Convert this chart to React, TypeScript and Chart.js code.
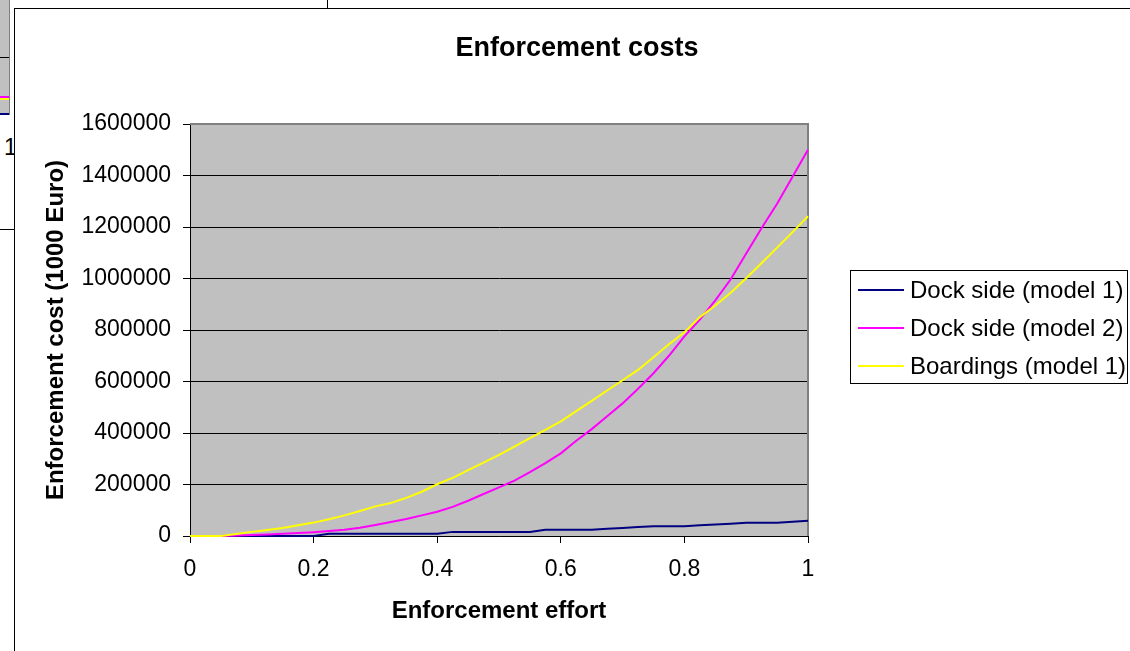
import React, { useEffect, useRef } from 'react';
import { Chart, registerables } from 'chart.js';

Chart.register(...registerables);

const FONT = "'Liberation Sans', Arial, Helvetica, sans-serif";

const chartTitle = 'Enforcement costs';
const xAxisTitle = 'Enforcement effort';
const yAxisTitle = 'Enforcement cost (1000 Euro)';

const effort = [
  0, 0.025, 0.05, 0.075, 0.1, 0.125, 0.15, 0.175, 0.2, 0.225,
  0.25, 0.275, 0.3, 0.325, 0.35, 0.375, 0.4, 0.425, 0.45, 0.475,
  0.5, 0.525, 0.55, 0.575, 0.6, 0.625, 0.65, 0.675, 0.7, 0.725,
  0.75, 0.775, 0.8, 0.825, 0.85, 0.875, 0.9, 0.925, 0.95, 0.975, 1,
];

const dockSideModel1 = [
  0, 0, 0, 0, 0, 0, 0, 0, 0, 9000,
  9000, 9000, 9000, 9000, 9000, 9000, 9000, 16000, 16000, 16000,
  16000, 16000, 16000, 24000, 24000, 24000, 24000, 28000, 31000, 35000,
  38000, 38000, 38000, 42000, 45000, 48000, 51000, 51000, 51000, 55000, 59000,
];

const dockSideModel2 = [
  0, 0, 0, 2000, 4000, 6000, 9000, 12000, 15000, 19000,
  24000, 32000, 43000, 54000, 66000, 80000, 94000, 113000, 137000, 163000,
  189000, 215000, 248000, 283000, 321000, 370000, 415000, 465000, 515000, 572000,
  632000, 700000, 775000, 840000, 915000, 997000, 1097000, 1196000, 1290000, 1395000, 1500000,
];

const boardingsModel1 = [
  0, 0, 0, 8000, 16000, 23000, 31000, 42000, 52000, 65000,
  80000, 97000, 115000, 128000, 148000, 172000, 201000, 226000, 256000, 285000,
  315000, 347000, 380000, 412000, 445000, 485000, 525000, 565000, 605000, 645000,
  694000, 745000, 791000, 850000, 895000, 945000, 1001000, 1060000, 1120000, 1180000, 1242000,
];

const seriesLabels = ['Dock side (model 1)', 'Dock side (model 2)', 'Boardings (model 1)'];
const seriesColors = ['#000080', '#FF00FF', '#FFFF00'];

const xTickLabels = ['0', '0.2', '0.4', '0.6', '0.8', '1'];
const yTickLabels = ['0', '200000', '400000', '600000', '800000', '1000000', '1200000', '1400000', '1600000'];

const plotArea = {
  id: 'plotArea',
  beforeDraw(chart: any) {
    const { ctx, chartArea } = chart;
    const { left, top, width, height } = chartArea;
    ctx.save();
    ctx.fillStyle = '#C0C0C0';
    ctx.fillRect(left, top, width, height);
    ctx.restore();
  },
  beforeDatasetsDraw(chart: any) {
    const { ctx, chartArea } = chart;
    const { left, top, right, bottom } = chartArea;
    ctx.save();
    ctx.strokeStyle = '#808080';
    ctx.lineWidth = 2;
    ctx.beginPath();
    ctx.moveTo(left, top);
    ctx.lineTo(right, top);
    ctx.lineTo(right, bottom);
    ctx.stroke();
    ctx.restore();
  },
};

const boxLegend = {
  id: 'boxLegend',
  afterDraw(chart: any) {
    const { ctx } = chart;
    const bx = 850.5, by = 270.5, bw = 277, bh = 113;
    ctx.save();
    ctx.fillStyle = '#FFFFFF';
    ctx.fillRect(bx, by, bw, bh);
    ctx.strokeStyle = '#000000';
    ctx.lineWidth = 1;
    ctx.strokeRect(bx, by, bw, bh);
    ctx.font = `24px ${FONT}`;
    ctx.textBaseline = 'middle';
    ctx.textAlign = 'left';
    chart.data.datasets.forEach((ds: any, i: number) => {
      const y = 290 + i * 38;
      ctx.strokeStyle = ds.borderColor;
      ctx.lineWidth = 2;
      ctx.beginPath();
      ctx.moveTo(858, y);
      ctx.lineTo(904, y);
      ctx.stroke();
      ctx.fillStyle = '#000000';
      ctx.fillText(ds.label, 910, y + 1);
    });
    ctx.restore();
  },
};

export default function App() {
  const canvasRef = useRef<HTMLCanvasElement>(null);

  useEffect(() => {
    if (!canvasRef.current) return;
    const seriesValues = [dockSideModel1, dockSideModel2, boardingsModel1];
    const chart = new Chart(canvasRef.current, {
      type: 'line',
      data: {
        datasets: seriesValues.map((vals, i) => ({
          label: seriesLabels[i],
          data: effort.map((x, j) => ({ x, y: vals[j] })),
          borderColor: seriesColors[i],
          backgroundColor: seriesColors[i],
          borderWidth: 2,
          pointRadius: 0,
          tension: 0,
          fill: false,
          clip: 4,
          order: 3 - i,
        })),
      },
      options: {
        responsive: false,
        animation: false,
        devicePixelRatio: 1,
        layout: { padding: { left: 24, right: 0, top: 0, bottom: 0 } },
        plugins: {
          legend: { display: false },
          tooltip: { enabled: false },
          title: {
            display: true,
            text: chartTitle,
            color: '#000000',
            font: { family: FONT, size: 27, weight: 'bold', lineHeight: 1.2 },
            padding: { top: 32, bottom: 59.6 },
          },
        },
        scales: {
          x: {
            type: 'linear',
            min: 0,
            max: 1,
            afterFit: (s: any) => { s.height = 115; },
            ticks: {
              stepSize: 0.2,
              color: '#000000',
              font: { family: FONT, size: 23 },
              padding: 13,
              maxRotation: 0,
              callback: (v: any, i: number) => xTickLabels[i] ?? String(v),
            },
            grid: { display: true, drawOnChartArea: false, drawTicks: true, tickLength: 7, color: '#000000' },
            border: { display: true, color: '#000000', width: 1 },
            title: {
              display: true,
              text: xAxisTitle,
              color: '#000000',
              font: { family: FONT, size: 24, weight: 'bold', lineHeight: 1.2 },
              padding: { top: 0, bottom: 25 },
            },
          },
          y: {
            type: 'linear',
            position: 'left',
            min: 0,
            max: 1600000,
            afterFit: (s: any) => { s.width = 166; },
            ticks: {
              stepSize: 200000,
              color: '#000000',
              font: { family: FONT, size: 23 },
              padding: 12,
              callback: (v: any, i: number) => yTickLabels[i] ?? String(v),
            },
            grid: { display: true, drawOnChartArea: true, drawTicks: true, tickLength: 7, color: '#000000', lineWidth: 1 },
            border: { display: true, color: '#000000', width: 1 },
            title: {
              display: true,
              text: yAxisTitle,
              color: '#000000',
              font: { family: FONT, size: 24, weight: 'bold', lineHeight: 1.2 },
              padding: { top: 17.6, bottom: 0 },
            },
          },
          legendSpace: {
            type: 'linear',
            position: 'right',
            display: true,
            afterFit: (s: any) => { s.width = 322; },
            ticks: { display: false },
            grid: { display: false, drawTicks: false },
            border: { display: false },
          },
        },
      },
      plugins: [plotArea, boxLegend],
    } as any);
    return () => chart.destroy();
  }, []);

  return (
    <div style={{ position: 'absolute', left: 0, top: 0, width: 1130, height: 651, overflow: 'hidden', background: '#FFFFFF' }}>
      <style>{'body{margin:0}'}</style>
      {/* remnants of another chart behind this one */}
      <div style={{ position: 'absolute', left: 0, top: 0, width: 9, height: 115, background: '#C0C0C0', borderRight: '1px solid #808080' }} />
      <div style={{ position: 'absolute', left: 0, top: 57, width: 9, height: 1, background: '#000000' }} />
      <div style={{ position: 'absolute', left: 0, top: 96, width: 9, height: 2, background: '#FF00FF' }} />
      <div style={{ position: 'absolute', left: 0, top: 98, width: 9, height: 2, background: '#FFFF00' }} />
      <div style={{ position: 'absolute', left: 0, top: 113, width: 9, height: 2, background: '#000080' }} />
      <div style={{ position: 'absolute', left: 4, top: 134, font: `23px ${FONT}`, color: '#000000', lineHeight: 'normal' }}>1</div>
      <div style={{ position: 'absolute', left: 0, top: 229, width: 14, height: 1, background: '#000000' }} />
      <div style={{ position: 'absolute', left: 327, top: 0, width: 1, height: 8, background: '#000000' }} />
      {/* main chart frame */}
      <div style={{ position: 'absolute', left: 14, top: 8, width: 1200, height: 700, background: '#FFFFFF', borderLeft: '1px solid #000000', borderTop: '1px solid #000000' }} />
      <canvas ref={canvasRef} width={1130} height={651} style={{ position: 'absolute', left: 0, top: 0 }} />
    </div>
  );
}
